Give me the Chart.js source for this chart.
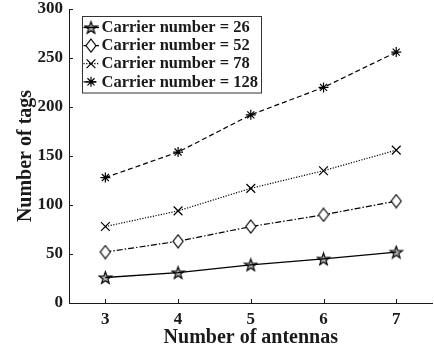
<!DOCTYPE html>
<html>
<head>
<meta charset="utf-8">
<script src="https://cdn.jsdelivr.net/npm/chart.js@4/dist/chart.umd.min.js"></script>
<style>
  html, body { margin: 0; padding: 0; background: #fff; overflow: hidden; }
  #wrap { width: 434px; height: 354px; overflow: hidden; }
  canvas { display: block; }
</style>
</head>
<body>
<div id="wrap"><canvas id="c" width="440" height="354"></canvas></div>
<script>
// Number of antennas on the x axis
const antennas = [3, 4, 5, 6, 7];
// Number of tags supported for each carrier count
const tags26  = [26, 31, 39, 45, 52];
const tags52  = [52, 63, 78, 90, 104];
const tags78  = [78, 94, 117, 135, 156];
const tags128 = [128, 154, 192, 220, 256];
const seriesLabels = ['Carrier number = 26', 'Carrier number = 52', 'Carrier number = 78', 'Carrier number = 128'];
const xTickValues = [3, 4, 5, 6, 7];
const yTickValues = [0, 50, 100, 150, 200, 250, 300];

const INK = '#1a1a1a';
const SERIF = "'Liberation Serif', 'Times New Roman', serif";

// Pentagram marker with a dark outline
function makeStar() {
  const s = 15, c = document.createElement('canvas');
  c.width = s; c.height = s;
  const g = c.getContext('2d');
  const R = 6.4, r = 2.6, cx = s / 2, cy = s / 2 + 0.6;
  g.beginPath();
  for (let i = 0; i < 10; i++) {
    const rad = (i % 2 === 0) ? R : r;
    const a = -Math.PI / 2 + i * Math.PI / 5;
    const px = cx + rad * Math.cos(a), py = cy + rad * Math.sin(a);
    i === 0 ? g.moveTo(px, py) : g.lineTo(px, py);
  }
  g.closePath();
  g.fillStyle = 'rgba(0,0,0,0.3)';
  g.fill();
  g.lineWidth = 1.2;
  g.strokeStyle = '#000';
  g.stroke();
  return c;
}
// Tall diamond marker with white fill
function makeDiamond() {
  const w = 12, h = 15, c = document.createElement('canvas');
  c.width = w; c.height = h;
  const g = c.getContext('2d');
  g.beginPath();
  g.moveTo(w / 2, 1); g.lineTo(w - 1, h / 2); g.lineTo(w / 2, h - 1); g.lineTo(1, h / 2);
  g.closePath();
  g.fillStyle = '#fff'; g.fill();
  g.lineWidth = 1.2; g.strokeStyle = '#000'; g.stroke();
  return c;
}
const starImg = makeStar();
const diamondImg = makeDiamond();

function toPoints(ys) { return antennas.map((x, i) => ({ x: x, y: ys[i] })); }

const datasets = [
  { label: seriesLabels[0], data: toPoints(tags26), borderDash: [], pointStyle: starImg, pointRadius: 6, borderWidth: 1.3 },
  { label: seriesLabels[1], data: toPoints(tags52), borderDash: [6, 2, 1.5, 2], pointStyle: diamondImg, pointRadius: 6, borderWidth: 1.2 },
  { label: seriesLabels[2], data: toPoints(tags78), borderDash: [1.2, 1.5], pointStyle: 'crossRot', pointRadius: 6.2, borderWidth: 1.2 },
  { label: seriesLabels[3], data: toPoints(tags128), borderDash: [5, 3], pointStyle: 'star', pointRadius: 5, borderWidth: 1.2 }
].map(d => Object.assign({
  borderColor: '#000', backgroundColor: '#000', pointBorderColor: '#000',
  pointBackgroundColor: '#fff', pointBorderWidth: 1.2, fill: false, tension: 0
}, d));

// Inward tick marks on both axes
const inwardTicks = {
  id: 'inwardTicks',
  afterDatasetsDraw(chart) {
    const { ctx, chartArea: a, scales: { x, y } } = chart;
    ctx.save();
    ctx.strokeStyle = INK; ctx.lineWidth = 1;
    ctx.beginPath();
    xTickValues.forEach(v => {
      const px = Math.round(x.getPixelForValue(v)) + 0.5;
      ctx.moveTo(px, a.bottom); ctx.lineTo(px, a.bottom - 4);
    });
    yTickValues.forEach(v => {
      const py = Math.round(y.getPixelForValue(v)) + 0.5;
      ctx.moveTo(a.left, py); ctx.lineTo(a.left + 4, py);
    });
    ctx.stroke();
    ctx.restore();
  }
};

// Boxed legend with line sample and marker
const boxedLegend = {
  id: 'boxedLegend',
  afterDraw(chart) {
    const ctx = chart.ctx;
    const bx = 82.5, by = 16.5, bw = 179, bh = 76.5;
    ctx.save();
    ctx.fillStyle = '#fff';
    ctx.fillRect(bx, by, bw, bh);
    ctx.strokeStyle = '#333'; ctx.lineWidth = 1;
    ctx.strokeRect(bx, by, bw, bh);
    ctx.font = 'bold 16.5px ' + SERIF;
    ctx.textBaseline = 'middle';
    ctx.textAlign = 'left';
    chart.data.datasets.forEach((ds, i) => {
      const cy = 27.5 + i * 18.1;
      ctx.strokeStyle = '#000';
      ctx.lineWidth = ds.borderWidth;
      ctx.setLineDash(ds.borderDash);
      ctx.beginPath(); ctx.moveTo(83.5, cy); ctx.lineTo(99, cy); ctx.stroke();
      ctx.setLineDash([]);
      ctx.lineWidth = 1.2;
      ctx.fillStyle = '#fff';
      Chart.helpers.drawPoint(ctx, { pointStyle: ds.pointStyle, radius: ds.pointRadius, rotation: 0, borderWidth: 1.2 }, 91, cy);
      ctx.fillStyle = INK;
      ctx.fillText(ds.label, 101.5, cy + 0.5);
    });
    ctx.restore();
  }
};

new Chart(document.getElementById('c'), {
  type: 'line',
  data: { datasets: datasets },
  plugins: [inwardTicks, boxedLegend],
  options: {
    responsive: false,
    animation: false,
    devicePixelRatio: 1,
    layout: { padding: { top: 9, right: 0, left: 0, bottom: 0 } },
    plugins: { legend: { display: false }, tooltip: { enabled: false } },
    scales: {
      x: {
        type: 'linear', min: 2.5, max: 7.5,
        afterBuildTicks(scale) { scale.ticks = xTickValues.map(v => ({ value: v })); },
        afterFit(scale) { scale.height = 51; scale.paddingLeft = 0; scale.paddingRight = 0; },
        grid: { display: false, drawTicks: false },
        border: { display: true, color: INK, width: 1 },
        ticks: { padding: 6, color: INK, font: { family: SERIF, size: 17, weight: 'bold' }, maxRotation: 0, autoSkip: false },
        title: { display: true, text: 'Number of antennas', color: INK, padding: { top: 0, bottom: 4 }, font: { family: SERIF, size: 20, weight: 'bold' } }
      },
      y: {
        type: 'linear', min: 0, max: 300,
        afterBuildTicks(scale) { scale.ticks = yTickValues.map(v => ({ value: v })); },
        afterFit(scale) { scale.width = 69; scale.paddingTop = 0; scale.paddingBottom = 0; },
        grid: { display: false, drawTicks: false },
        border: { display: true, color: INK, width: 1 },
        ticks: { padding: 6, color: INK, font: { family: SERIF, size: 17, weight: 'bold' } },
        title: { display: true, text: 'Number of tags', color: INK, padding: { top: 14, bottom: 0 }, font: { family: SERIF, size: 20, weight: 'bold' } }
      }
    }
  }
});
</script>
</body>
</html>
